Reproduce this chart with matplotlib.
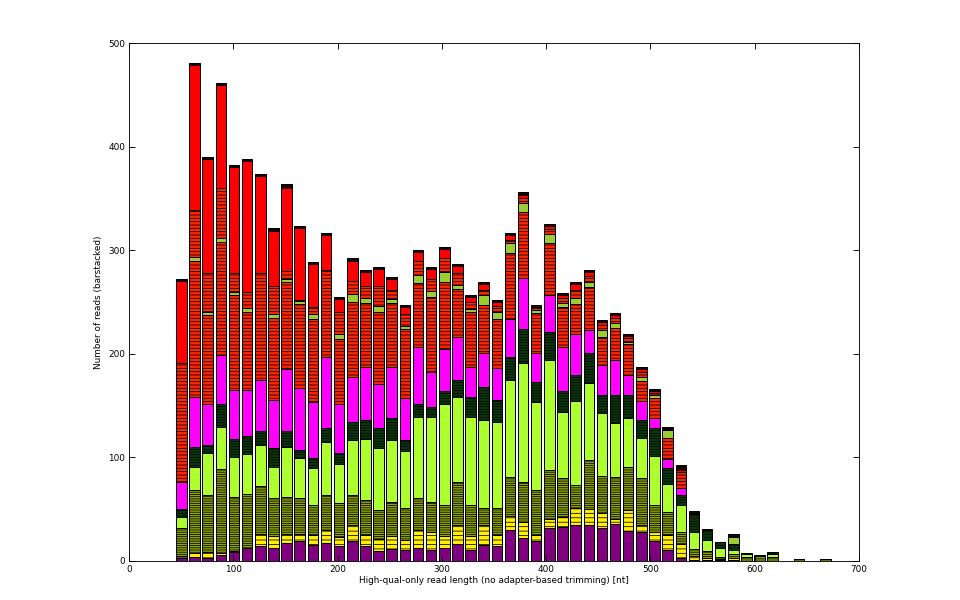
import numpy as np
import matplotlib
matplotlib.use("Agg")
import matplotlib.pyplot as plt

plt.rcParams['font.family'] = ['DejaVu Sans']
plt.rcParams['hatch.color'] = 'black'
plt.rcParams['hatch.linewidth'] = 0.7

# histogram bins (read length, nt)
bin_lo, bin_hi, n_bins = 44.0, 674.0, 50

# cumulative tops of each colour group per bin (number of reads)
purple_top = [3,4,2.5,6,9,13,14,13,17,19,15.4,17,14,19,14,9.6,12,11,13,10.6,13,16,10.6,15,14,30,22,19,32,32.5,35,35,31.4,36,29,27.6,19,10.6,2.5,1,1,0.5,1,0,0,0,0,0,0,0]
yellow_top = [5,8,9,8,10,13,26,24,26,26,25,30,23,35,25,21,24,20,30,28,24,35,24,35,25,43,38,25,41,42,51,50,46,41,49,34.7,28,25,16,5,3,2,3,0,0,0,0,0,0,0]
olive_top = [32,68.5,63.7,89,62,64.7,72,61,62,60.5,54,63.7,55.7,63.7,59,49,57,51,60.5,57,54,76,54,51,51,81.5,76,68.5,88,80,73,97.5,82,81.5,91,80,54,47.6,28,12,10,4.3,6.8,3.5,4.8,3.5,0,2,0,2]
green_top = [42.5,91,104,129,100.7,103,112,91,110,99,89.5,115,94,117,118,108.7,117,105.8,139,139.3,152,158.6,139,136,134,175,191,153,194,144,154,172,142.6,133,137.7,118.4,101,74,54,28,20,12.3,10.6,6.4,4.8,6.7,0,2,0,2]
dark_top = [50.6,110,112,152,118,121,125.7,108.7,125.7,107,99,128,104,134,136,128,138,117,152,149,164,175,158,168,155,197,224,173,221,164,180,201,160,160,160,136,128,89.5,63.7,45,30,18,16.4,6.4,4.8,6.7,0,2,0,2]
magenta_top = [75.8,158.6,152,199,165,165,175,155,185,167,153,197,152,178,187,171,187,157,207,182,205,216,187,201,186,234,273,201,257,207,219,223,189,194,180,154,138,98,70,45,30,18,16.4,6.4,4.8,6.7,0,2,0,2]
red1_top = [191,290,237,308,257,240,278,235,269,248,234,281,214,250,249,240,249,224,268,255,269,263,240,247,234,297,337,239,307,245,248,264,216.5,224.6,209.4,174,157,118.5,77.5,45,30,18,16.4,6.4,4.8,6.7,0,2,0,2]
ygreen_top = [191,293,240,312,260,244,278,238,272,251,238,281,219,258,254,246,253,227,276,261,279,266,243,257,240,307,346,242,316,249,254,269,223,229.4,211.6,178,160,126.5,77.5,45,30,18,22.8,6.4,4.8,6.7,0,2,0,2]
red1b_top = [191,339,278,360,278,260,278,265,280,252,245,281,240,270,265,265,262,238,290,272,292,278,250,262,246,310,350,244,320,254,262,275,228,235,215,182,162,127,86,45,30,18,22.8,6.4,4.8,6.7,0,2,0,2]
red2_top = [270,479,388,459,380,386,372,319,360,321,287,315,253,290,279,282,272,245,298,282,301,285,255,267,250,315,353,245,323,257,267,279,230.6,237.4,217,185,164,127.5,88,46,30,18,24,6.4,4.8,6.7,0,2,0,2]
total_top = [272,481,390,461,382,388,374,321,364,323,289,317,255,292,281,284,274,247,300,284,303,287,257,269,252,317,356,247,325,259,269,281,232.6,239.4,219,187,166,129.6,92.7,48,31,18.6,25.7,7.4,5.8,8.7,0,2,0,2]

layers = [
    (purple_top,  '#800080', ''),
    (yellow_top,  '#FFEE00', '---'),
    (olive_top,   '#8EA600', '------'),
    (green_top,   '#ADFF2F', ''),
    (dark_top,    '#0B3B0B', '-----'),
    (magenta_top, '#FF00FF', ''),
    (red1_top,    '#FF2400', '----'),
    (ygreen_top,  '#9ACD32', ''),
    (red1b_top,   '#FF2400', '----'),
    (red2_top,    '#FF0000', ''),
    (total_top,   '#200000', ''),
]

edges = np.linspace(bin_lo, bin_hi, n_bins + 1)
centers = 0.5 * (edges[:-1] + edges[1:])
width = 0.8 * (edges[1] - edges[0])

fig = plt.figure(figsize=(12, 7.5), dpi=80)
ax = fig.add_axes([129/960, 1 - 561/600, 730/960, 518/600])

prev = np.zeros(n_bins)
for tops, color, hatch in layers:
    tops = np.asarray(tops, dtype=float)
    h = tops - prev
    ax.bar(centers, h, width=width, bottom=prev, color=color,
           edgecolor='black', linewidth=0.9, hatch=hatch, align='center')
    prev = tops

ax.set_xlim(0, 700)
ax.set_ylim(0, 500)
ax.set_xticks(np.arange(0, 701, 100))
ax.set_yticks(np.arange(0, 501, 100))
ax.tick_params(direction='in', top=True, right=True, length=5, labelsize=8)
ax.set_xlabel('High-qual-only read length (no adapter-based trimming) [nt]', fontsize=8, labelpad=2)
ax.set_ylabel('Number of reads (barstacked)', fontsize=8, labelpad=5)

fig.savefig('out.png', dpi=80)
